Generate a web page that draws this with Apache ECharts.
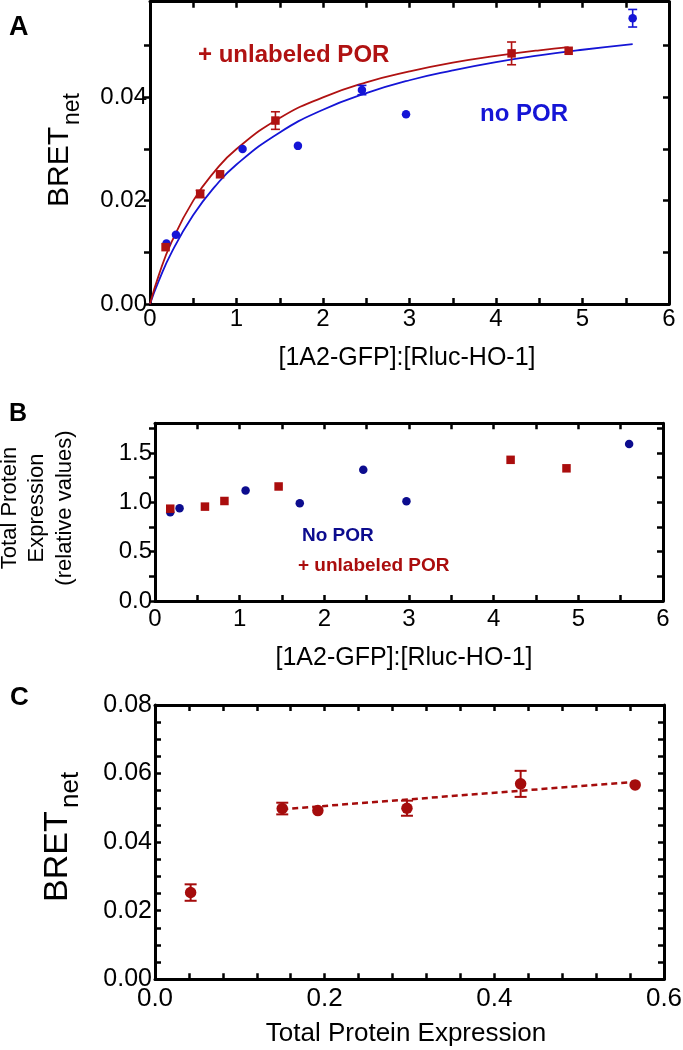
<!DOCTYPE html>
<html><head><meta charset="utf-8">
<script src="https://cdn.jsdelivr.net/npm/echarts@6/dist/echarts.min.js"></script>
<style>html,body{margin:0;padding:0;background:#fff}#c{width:683px;height:1050px}</style>
</head><body><div id="c"></div><script>
// ---------- Panel A data ----------
const aRedX   = [0.18, 0.58, 0.81, 1.45, 4.18, 4.84];
const aRedY   = [0.0110, 0.0213, 0.0251, 0.0355, 0.0485, 0.0490];
const aRedErr = [0, 0.0007, 0, 0.0017, 0.0022, 0];
const aBlueX   = [0.19, 0.30, 1.07, 1.71, 2.45, 2.96, 5.58];
const aBlueY   = [0.0117, 0.0134, 0.0300, 0.0306, 0.0414, 0.0367, 0.0553];
const aBlueErr = [0, 0, 0, 0, 0.0009, 0, 0.0017];
const aRedFitX  = [0, 0.1, 0.25, 0.5, 0.75, 1.0, 1.5, 2.0, 2.5, 3.0, 3.5, 4.0, 4.5, 4.84];
const aRedFitY  = [0, 0.0055, 0.0120, 0.0200, 0.0257, 0.0300, 0.0360, 0.0400, 0.0429, 0.0450, 0.0467, 0.0480, 0.0491, 0.0497];
const aBlueFitX = [0, 0.1, 0.25, 0.5, 0.75, 1.0, 1.5, 2.0, 2.5, 3.0, 3.5, 4.0, 4.5, 5.0, 5.58];
const aBlueFitY = [0, 0.0044, 0.0100, 0.0172, 0.0227, 0.0270, 0.0332, 0.0376, 0.0408, 0.0433, 0.0452, 0.0468, 0.0481, 0.0492, 0.0503];
const aXTicks  = [0,0.5,1,1.5,2,2.5,3,3.5,4,4.5,5,5.5,6];
const aXLabels = [0,1,2,3,4,5,6];
const aYTicks  = [0,0.01,0.02,0.03,0.04,0.05];
const aYLabels = [0,0.02,0.04];

// ---------- Panel B data ----------
const bBlueX = [0.18, 0.29, 1.07, 1.71, 2.46, 2.97, 5.60];
const bBlueY = [0.90, 0.94, 1.12, 0.99, 1.33, 1.01, 1.59];
const bRedX  = [0.18, 0.59, 0.82, 1.46, 4.20, 4.86];
const bRedY  = [0.935, 0.956, 1.013, 1.16, 1.43, 1.344];
const bXTicks  = aXTicks;
const bXLabels = aXLabels;
const bYTicks  = [0,0.25,0.5,0.75,1,1.25,1.5,1.75];
const bYLabels = [0,0.5,1,1.5];

// ---------- Panel C data ----------
const cX   = [0.042, 0.150, 0.192, 0.297, 0.431, 0.566];
const cY   = [0.0253, 0.0498, 0.0492, 0.0499, 0.0570, 0.0567];
const cErr = [0.0024, 0.0017, 0, 0.0022, 0.0038, 0];
const cFitX = [0.150, 0.566];
const cFitY = [0.0496, 0.0576];
const cXTicks  = [0,0.04,0.08,0.12,0.16,0.2,0.24,0.28,0.32,0.36,0.4,0.44,0.48,0.52,0.56,0.6];
const cXLabels = [0,0.2,0.4,0.6];
const cYTicks  = [0,0.005,0.01,0.015,0.02,0.025,0.03,0.035,0.04,0.045,0.05,0.055,0.06,0.065,0.07,0.075,0.08];
const cYLabels = [0,0.02,0.04,0.06,0.08];

const FONT = 'Liberation Sans';
const RED_A = '#b01212', BLUE_A = '#1515d6';
const RED_B = '#aa0d0d', BLUE_B = '#0c0c8e';
const RED_C = '#a50c0c';

const zip = (xs, ys) => xs.map((x, i) => [x, ys[i]]);
const errData = (xs, ys, es) => xs.map((x, i) => [x, ys[i] - es[i], ys[i] + es[i], es[i]]).filter(d => d[3] > 0);

function axis(grid, pos, min, max, ticks, labels, digits, fs, margin, inside) {
  return {
    type: 'value', gridIndex: grid, position: pos, min: min, max: max,
    axisLine: { show: true, onZero: false, lineStyle: { color: '#000', width: 3 } },
    axisTick: { show: true, inside: inside, length: 6, customValues: ticks, lineStyle: { color: '#000', width: 2.5 } },
    axisLabel: labels ? { show: true, customValues: labels, formatter: v => Number(v).toFixed(digits),
      fontSize: fs, color: '#000', fontFamily: FONT, margin: margin, hideOverlap: false } : { show: false },
    splitLine: { show: false }, silent: true
  };
}

function errSeries(xi, yi, data, color, half, lw) {
  return {
    type: 'custom', xAxisIndex: xi, yAxisIndex: yi, data: data, z: 3, silent: true,
    encode: { x: 0, y: [1, 2] },
    renderItem: function (params, api) {
      const x = api.value(0);
      const p1 = api.coord([x, api.value(1)]);
      const p2 = api.coord([x, api.value(2)]);
      const st = { stroke: color, lineWidth: lw };
      return { type: 'group', children: [
        { type: 'line', shape: { x1: p1[0], y1: p1[1], x2: p2[0], y2: p2[1] }, style: st },
        { type: 'line', shape: { x1: p1[0] - half, y1: p1[1], x2: p1[0] + half, y2: p1[1] }, style: st },
        { type: 'line', shape: { x1: p2[0] - half, y1: p2[1], x2: p2[0] + half, y2: p2[1] }, style: st }
      ]};
    }
  };
}

function txt(x, y, text, size, color, bold, align, rot) {
  return { type: 'text', x: x, y: y, rotation: rot || 0, silent: true, z: 100,
    style: { text: text, fontSize: size, fontWeight: bold ? 'bold' : 'normal', fontFamily: FONT,
      fill: color, align: align || 'left', verticalAlign: 'middle' } };
}

const R = Math.PI / 2;
const option = {
  animation: false,
  backgroundColor: '#fff',
  grid: [
    { left: 150, top: 1.7, width: 519, height: 302.3, containLabel: false, outerBoundsMode: 'none' },
    { left: 155, top: 423.3, width: 508, height: 177.7, containLabel: false, outerBoundsMode: 'none' },
    { left: 155, top: 705, width: 509, height: 274.3, containLabel: false, outerBoundsMode: 'none' }
  ],
  xAxis: [
    axis(0, 'bottom', 0, 6, aXTicks, aXLabels, 0, 24, 3, true),
    axis(0, 'top', 0, 6, aXTicks, null, 0, 24, 3, true),
    axis(1, 'bottom', 0, 6, bXTicks, bXLabels, 0, 24, 6, true),
    axis(1, 'top', 0, 6, bXTicks, null, 0, 24, 3, true),
    axis(2, 'bottom', 0, 0.6, cXTicks, cXLabels, 1, 26, 7, true),
    axis(2, 'top', 0, 0.6, cXTicks, null, 1, 26, 3, true)
  ],
  yAxis: [
    axis(0, 'left', 0, 0.0585, aYTicks, aYLabels, 2, 24, 3, false),
    axis(0, 'right', 0, 0.0585, aYTicks, null, 2, 24, 3, true),
    axis(1, 'left', 0, 1.8, bYTicks, bYLabels, 1, 24, 3, false),
    axis(1, 'right', 0, 1.8, bYTicks, null, 1, 24, 3, true),
    axis(2, 'left', 0, 0.08, cYTicks, cYLabels, 2, 25, 3, true),
    axis(2, 'right', 0, 0.08, cYTicks, null, 2, 25, 3, true)
  ],
  series: [
    // Panel A
    { type: 'line', xAxisIndex: 0, yAxisIndex: 0, data: zip(aBlueFitX, aBlueFitY), smooth: true, showSymbol: false,
      lineStyle: { color: BLUE_A, width: 1.8 }, z: 2, silent: true },
    { type: 'line', xAxisIndex: 0, yAxisIndex: 0, data: zip(aRedFitX, aRedFitY), smooth: true, showSymbol: false,
      lineStyle: { color: RED_A, width: 1.8 }, z: 2, silent: true },
    errSeries(0, 0, errData(aBlueX, aBlueY, aBlueErr), BLUE_A, 4.5, 1.6),
    errSeries(0, 0, errData(aRedX, aRedY, aRedErr), RED_A, 4.5, 1.6),
    { type: 'scatter', xAxisIndex: 0, yAxisIndex: 0, data: zip(aBlueX, aBlueY), symbol: 'circle', symbolSize: 8.5,
      itemStyle: { color: BLUE_A, opacity: 1 }, z: 4, silent: true },
    { type: 'scatter', xAxisIndex: 0, yAxisIndex: 0, data: zip(aRedX, aRedY), symbol: 'rect', symbolSize: 8.5,
      itemStyle: { color: RED_A, opacity: 1 }, z: 5, silent: true },
    // Panel B
    { type: 'scatter', xAxisIndex: 2, yAxisIndex: 2, data: zip(bBlueX, bBlueY), symbol: 'circle', symbolSize: 8.5,
      itemStyle: { color: BLUE_B, opacity: 1 }, z: 4, silent: true },
    { type: 'scatter', xAxisIndex: 2, yAxisIndex: 2, data: zip(bRedX, bRedY), symbol: 'rect', symbolSize: 8.5,
      itemStyle: { color: RED_B, opacity: 1 }, z: 5, silent: true },
    // Panel C
    { type: 'line', xAxisIndex: 4, yAxisIndex: 4, data: zip(cFitX, cFitY), showSymbol: false,
      lineStyle: { color: RED_C, width: 2.5, type: [6, 4] }, z: 2, silent: true },
    errSeries(4, 4, errData(cX, cY, cErr), RED_C, 6, 2),
    { type: 'scatter', xAxisIndex: 4, yAxisIndex: 4, data: zip(cX, cY), symbol: 'circle', symbolSize: 11.5,
      itemStyle: { color: RED_C, opacity: 1 }, z: 5, silent: true }
  ],
  graphic: { elements: [
    // panel letters
    txt(9, 28, 'A', 27, '#000', true),
    txt(9, 414, 'B', 25, '#000', true),
    txt(10, 698, 'C', 26, '#000', true),
    // Panel A annotations
    txt(198, 55, '+ unlabeled POR', 24, RED_A, true),
    txt(480, 114, 'no POR', 24, BLUE_A, true),
    // Panel A axis titles
    txt(407, 358, '[1A2-GFP]:[Rluc-HO-1]', 25, '#000', false, 'center'),
    txt(60, 207, 'BRET', 30, '#000', false, 'left', R),
    txt(73, 125, 'net', 23, '#000', false, 'left', R),
    // Panel B annotations
    txt(302, 536, 'No POR', 19, BLUE_B, true),
    txt(298, 566, '+ unlabeled POR', 19, RED_B, true),
    // Panel B axis titles
    txt(404, 658, '[1A2-GFP]:[Rluc-HO-1]', 25, '#000', false, 'center'),
    txt(10, 508, 'Total Protein', 22, '#000', false, 'center', R),
    txt(37, 508, 'Expression', 22, '#000', false, 'center', R),
    txt(65, 508, '(relative values)', 22, '#000', false, 'center', R),
    // Panel C axis titles
    txt(406, 1034, 'Total Protein Expression', 26, '#000', false, 'center'),
    txt(58, 902, 'BRET', 34, '#000', false, 'left', R),
    txt(71, 808, 'net', 26, '#000', false, 'left', R)
  ]}
};
const chart = echarts.init(document.getElementById('c'), null, { renderer: 'canvas' });
chart.setOption(option);
</script></body></html>
